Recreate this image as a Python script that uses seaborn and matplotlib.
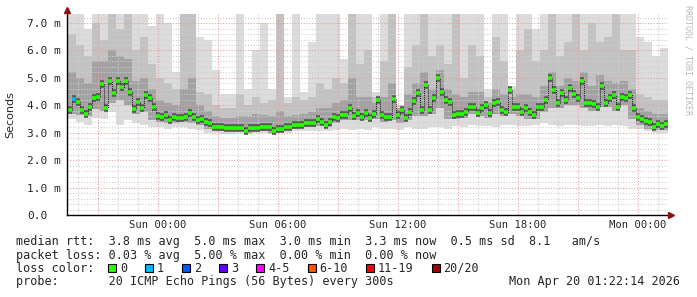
import numpy as np
import pandas as pd
import matplotlib
matplotlib.use("Agg")
import matplotlib.pyplot as plt
import seaborn as sns
from matplotlib.patches import Rectangle

# ---------------- data (hours relative to Sun 00:00, values in ms) ----------------
median_start_h = -4.5
median_step_h = 0.2
median_ms = [
    3.83, 4.23, 4.13, 3.83, 3.69, 3.95, 4.28, 4.32, 4.78, 3.90,
    4.89, 4.45, 4.89, 4.68, 4.89, 4.50, 3.87, 4.13, 3.90, 4.38,
    4.27, 3.95, 3.61, 3.57, 3.65, 3.47, 3.59, 3.53, 3.53, 3.59,
    3.71, 3.59, 3.47, 3.49, 3.40, 3.35, 3.22, 3.22, 3.22, 3.16,
    3.16, 3.16, 3.16, 3.16, 3.08, 3.16, 3.16, 3.16, 3.20, 3.20,
    3.22, 3.08, 3.13, 3.13, 3.20, 3.22, 3.28, 3.28, 3.28, 3.35,
    3.35, 3.35, 3.49, 3.40, 3.28, 3.40, 3.59, 3.53, 3.65, 3.65,
    3.89, 3.61, 3.71, 3.59, 3.71, 3.55, 3.69, 4.20, 3.65, 3.57,
    3.57, 4.22, 3.65, 3.83, 3.53, 3.77, 4.17, 4.44, 3.83, 4.74,
    3.83, 4.26, 4.99, 4.50, 4.20, 4.13, 3.65, 3.69, 3.69, 3.77,
    3.95, 3.95, 3.71, 3.89, 4.01, 3.71, 4.10, 4.13, 3.83, 3.77,
    4.56, 3.95, 3.95, 3.77, 3.89, 3.77, 3.65, 3.95, 3.95, 4.20,
    4.99, 4.56, 4.08, 4.46, 4.20, 4.62, 4.42, 4.26, 4.89, 4.10,
    4.10, 4.05, 3.95, 4.71, 4.10, 4.26, 4.38, 3.95, 4.30, 4.26,
    4.38, 3.89, 3.57, 3.49, 3.44, 3.40, 3.22, 3.32, 3.25, 3.32,
]
# steps with lost pings (index into median_ms) and how many were lost
loss_steps = [1]
loss_counts = [1]

smoke_start_h = -4.5
smoke_step_h = 0.4
smoke_max = [
    7.4, 7.4, 6.8, 7.4, 7.4, 7.4, 7.4, 7.4, 7.4, 7.4,
    6.9, 7.4, 7.0, 5.2, 7.4, 7.4, 6.5, 6.4, 5.3, 4.4,
    4.4, 7.4, 4.6, 6.0, 7.0, 4.6, 7.4, 4.3, 7.4, 4.5,
    6.3, 7.4, 7.4, 7.4, 5.7, 7.4, 7.4, 7.4, 4.5, 7.4,
    7.4, 4.0, 7.4, 7.4, 7.4, 7.4, 7.4, 7.4, 7.4, 7.4,
    7.4, 7.4, 4.6, 7.4, 7.4, 4.7, 7.4, 7.4, 6.8, 7.4,
    7.4, 7.4, 7.4, 7.4, 7.4, 7.4, 7.4, 7.4, 7.4, 7.4,
    7.4, 6.5, 6.3, 5.8, 6.1,
]
smoke_p90 = [
    6.6, 6.2, 5.8, 7.0, 6.4, 7.4, 6.8, 7.4, 6.0, 6.5,
    5.5, 5.0, 4.8, 4.6, 7.4, 7.4, 4.5, 4.4, 4.0, 3.9,
    3.9, 4.4, 4.0, 4.3, 4.1, 4.2, 7.4, 4.1, 4.3, 4.2,
    4.3, 4.8, 4.6, 5.0, 4.8, 7.4, 5.5, 6.0, 4.3, 5.6,
    7.4, 3.9, 5.4, 6.2, 7.4, 5.8, 6.2, 5.5, 7.4, 5.0,
    6.2, 5.8, 4.3, 6.5, 5.6, 4.6, 6.0, 6.8, 5.6, 6.0,
    7.4, 5.8, 6.3, 7.4, 6.0, 7.0, 6.3, 6.5, 7.4, 6.0,
    6.0, 4.4, 4.3, 4.2, 4.2,
]
smoke_p75 = [
    5.2, 5.0, 4.8, 5.6, 5.6, 6.0, 5.8, 5.7, 4.9, 5.0,
    4.6, 4.2, 4.1, 4.0, 4.6, 5.0, 4.0, 3.8, 3.6, 3.55,
    3.55, 3.6, 3.6, 3.7, 3.65, 3.6, 3.8, 3.6, 3.65, 3.7,
    3.75, 3.9, 3.9, 4.1, 4.2, 5.0, 4.3, 4.3, 4.1, 4.3,
    4.8, 3.9, 4.4, 4.8, 5.2, 4.6, 5.3, 4.6, 4.4, 4.3,
    4.5, 4.5, 4.1, 4.6, 4.4, 4.3, 4.4, 4.4, 4.3, 4.7,
    5.2, 4.7, 5.0, 4.9, 5.2, 4.7, 5.1, 4.9, 4.8, 4.9,
    4.6, 3.9, 3.8, 3.7, 3.7,
]
smoke_p25 = [
    3.7, 3.65, 3.6, 3.85, 3.8, 4.1, 4.2, 4.0, 3.7, 3.75,
    3.45, 3.4, 3.35, 3.35, 3.4, 3.35, 3.3, 3.15, 3.1, 3.05,
    3.05, 3.05, 3.0, 3.05, 3.08, 3.0, 3.05, 3.1, 3.15, 3.2,
    3.2, 3.25, 3.2, 3.35, 3.45, 3.45, 3.45, 3.45, 3.5, 3.4,
    3.45, 3.35, 3.45, 3.6, 3.6, 3.7, 3.9, 3.5, 3.5, 3.55,
    3.7, 3.6, 3.55, 3.7, 3.6, 3.7, 3.6, 3.5, 3.5, 3.75,
    3.9, 3.9, 4.0, 4.0, 3.9, 3.8, 3.95, 3.95, 3.8, 4.0,
    3.5, 3.3, 3.15, 3.1, 3.1,
]
smoke_min = [
    3.5, 3.4, 3.3, 3.55, 3.5, 3.75, 3.3, 3.45, 3.35, 3.3,
    3.2, 3.2, 3.15, 3.2, 3.2, 3.15, 3.1, 3.0, 3.0, 2.95,
    2.95, 3.0, 2.95, 3.0, 3.0, 2.95, 3.0, 3.0, 3.05, 3.05,
    3.05, 3.05, 3.05, 3.1, 3.15, 3.1, 3.15, 3.1, 3.2, 3.15,
    3.15, 3.1, 3.2, 3.15, 3.15, 3.2, 3.2, 3.15, 3.25, 3.2,
    3.3, 3.25, 3.25, 3.2, 3.3, 3.3, 3.25, 3.25, 3.3, 3.35,
    3.3, 3.25, 3.3, 3.3, 3.25, 3.25, 3.3, 3.25, 3.3, 3.25,
    3.15, 3.15, 3.05, 3.0, 3.0,
]

ytick_values = [0, 1, 2, 3, 4, 5, 6, 7]
ytick_labels = ["0.0", "1.0 m", "2.0 m", "3.0 m", "4.0 m", "5.0 m", "6.0 m", "7.0 m"]
xtick_hours = [0, 6, 12, 18, 24]
xtick_labels = ["Sun 00:00", "Sun 06:00", "Sun 12:00", "Sun 18:00", "Mon 00:00"]

loss_labels = ["0", "1", "2", "3", "4-5", "6-10", "11-19", "20/20"]
loss_colors = ["#26ff00", "#00b8ff", "#0059ff", "#5e00ff", "#ff00ff", "#ff5500", "#ff0000", "#a00000"]

stats_line1 = "median rtt:  3.8 ms avg  5.0 ms max  3.0 ms min  3.3 ms now  0.5 ms sd  8.1   am/s"
stats_line2 = "packet loss: 0.03 % avg  5.00 % max  0.00 % min  0.00 % now"
probe_line = "probe:       20 ICMP Echo Pings (56 Bytes) every 300s"
stamp = "Mon Apr 20 01:22:14 2026"

# ---------------- figure ----------------
sns.set_style("white")
plt.rcParams["font.family"] = ["DejaVu Sans"]
MONO = "DejaVu Sans Mono"

W, H = 697, 297
fig = plt.figure(figsize=(W / 100, H / 100), dpi=100)
fig.patch.set_facecolor("white")
ax = fig.add_axes([67 / W, 82 / H, 601 / W, 201 / H])
ax.set_facecolor("white")
ax.set_xlim(-4.55, 25.5)
ax.set_ylim(0, 7.33)

# smoke
n_s = len(smoke_max)
s_edges = smoke_start_h + smoke_step_h * np.arange(n_s + 1)
ax.stairs(smoke_max, s_edges, baseline=smoke_min, fill=True, color="#dcdcdc", lw=0, zorder=1)
ax.stairs(smoke_p90, s_edges, baseline=smoke_p25, fill=True, color="#c2c2c2", lw=0, zorder=2)
ax.stairs(smoke_p75, s_edges, baseline=smoke_p25, fill=True, color="#a2a2a2", lw=0, zorder=3)

# grid (drawn over smoke like rrdtool)
for h in np.arange(-4, 26, 1):
    if h % 3 == 0:
        continue
    ax.axvline(h, color="#cfcfcf", lw=0.8, ls=(0, (1, 1.5)), zorder=4)
for v in np.arange(0.2, 7.33, 0.2):
    if abs(v - round(v)) < 1e-6:
        continue
    ax.axhline(v, color="#cfcfcf", lw=0.8, ls=(0, (1, 1.5)), zorder=4)
for h in np.arange(-3, 26, 3):
    ax.axvline(h, color="#e8a0a0", lw=0.8, ls=(0, (1, 1.5)), zorder=4)
for v in range(1, 8):
    ax.axhline(v, color="#e8a0a0", lw=0.8, ls=(0, (1, 1.5)), zorder=4)

# median
n_m = len(median_ms)
m_hours = median_start_h + median_step_h * np.arange(n_m)
m_edges = median_start_h + median_step_h * np.arange(n_m + 1)
ax.hlines(median_ms, m_edges[:-1], m_edges[1:], colors="#5a5a5a", lw=5.5, zorder=5)
df = pd.DataFrame({"hours": m_hours, "median": median_ms})
sns.lineplot(data=df, x="hours", y="median", drawstyle="steps-post", color="#202020",
             lw=0.7, ls=(0, (1, 1)), estimator=None, ax=ax, zorder=6)
seg_colors = [loss_colors[0]] * n_m
for i, c in zip(loss_steps, loss_counts):
    seg_colors[i] = loss_colors[min(c, 7)]
ax.hlines(median_ms, m_edges[:-1], m_edges[1:], colors=seg_colors, lw=2.6, zorder=7)

# axes styling
ax.set_xlabel("")
ax.set_ylabel("")
for s in ["top", "right"]:
    ax.spines[s].set_visible(False)
for s in ["left", "bottom"]:
    ax.spines[s].set_color("black")
    ax.spines[s].set_linewidth(1.0)
    ax.spines[s].set_zorder(8)
ax.set_yticks(ytick_values)
ax.set_yticklabels(ytick_labels, family=MONO, fontsize=8)
for lbl in ax.get_yticklabels():
    lbl.set_horizontalalignment("left")
ax.tick_params(axis="y", length=0, pad=28.8)
ax.set_xticks(xtick_hours)
ax.set_xticklabels(xtick_labels, family=MONO, fontsize=7.6)
ax.tick_params(axis="x", length=0, pad=3.5)
ax.grid(False)

# arrows
ax.plot([0], [1 + 4 / 201], marker="^", ms=5, color="#8b1010", transform=ax.transAxes,
        clip_on=False, zorder=9)
ax.plot([1 + 3 / 601], [0], marker=">", ms=5, color="#8b1010", transform=ax.transAxes,
        clip_on=False, zorder=9)

# labels
fig.text(10 / W, 1 - 115 / H, "Seconds", rotation=90, ha="center", va="center", fontsize=8)
fig.text(688 / W, 1 - 60 / H, "RRDTOOL / TOBI OETIKER", rotation=270, ha="center",
         va="center", fontsize=6, color="#b8b8b8", family=MONO)

# legend / stats text
FS = 8.5
fig.text(16 / W, 1 - 241 / H, stats_line1, family=MONO, fontsize=FS, va="center")
fig.text(16 / W, 1 - 255 / H, stats_line2, family=MONO, fontsize=FS, va="center")
fig.text(16 / W, 1 - 268 / H, "loss color:", family=MONO, fontsize=FS, va="center")
cw = 7.1
xpos = 108.0
for lab, col in zip(loss_labels, loss_colors):
    fig.patches.append(Rectangle((xpos / W, 1 - 272 / H), 8 / W, 8 / H, facecolor=col,
                                 edgecolor="black", lw=0.8, transform=fig.transFigure,
                                 figure=fig))
    fig.text((xpos + 12) / W, 1 - 268 / H, lab, family=MONO, fontsize=FS, va="center")
    xpos = xpos + 12 + len(lab) * cw + 18
fig.text(16 / W, 1 - 282 / H, probe_line, family=MONO, fontsize=FS, va="center")
fig.text(680 / W, 1 - 282 / H, stamp, family=MONO, fontsize=FS, va="center", ha="right")

fig.savefig("out.png", dpi=100, facecolor="white")
